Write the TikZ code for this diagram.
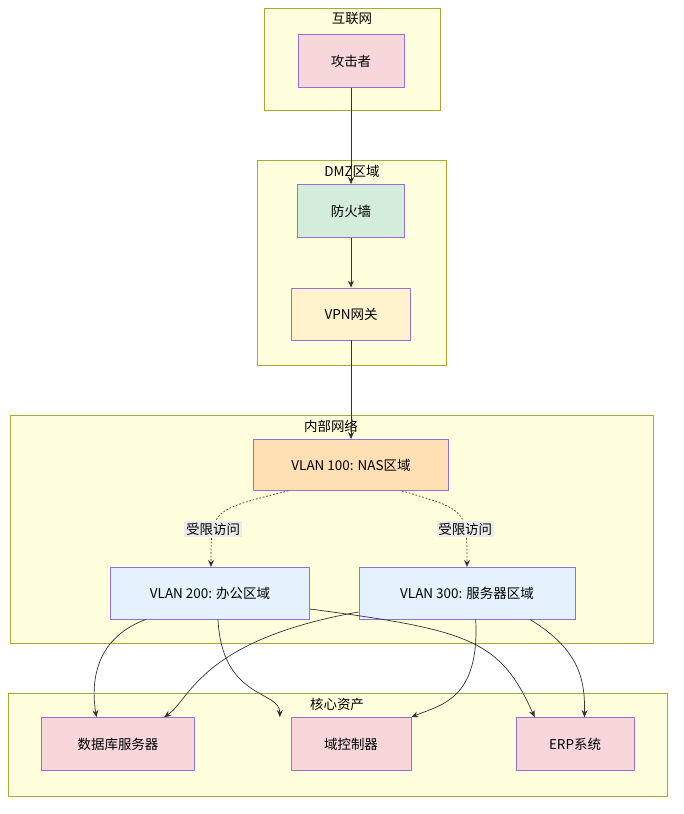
\documentclass[tikz,border=0pt]{standalone}
\usepackage{fontspec}
\setmainfont{Noto Sans CJK SC}
\usetikzlibrary{arrows.meta, positioning, calc}
\definecolor{clfill}{HTML}{FFFFDE}
\definecolor{cldraw}{HTML}{AAAA33}
\definecolor{ndraw}{HTML}{9370DB}
\definecolor{redf}{HTML}{F8D7DA}
\definecolor{greenf}{HTML}{D4EDDA}
\definecolor{yelf}{HTML}{FFF3CD}
\definecolor{orgf}{HTML}{FFDFB3}
\definecolor{bluef}{HTML}{E3F2FD}
\definecolor{lnk}{HTML}{333333}
\tikzset{
    cluster/.style={draw=cldraw, fill=clfill, line width=0.6pt},
    box/.style={rectangle, draw=ndraw, line width=0.6pt, align=center, font=\fontsize{11.5}{13}\selectfont},
    cltitle/.style={font=\fontsize{11.5}{13}\selectfont, anchor=center},
    link/.style={draw=lnk, line width=0.6pt, -{Stealth[length=6pt,width=5pt]}},
    dlink/.style={link, dash pattern=on 1.5pt off 1.5pt},
    lbl/.style={fill=black!8, inner sep=1.5pt, font=\fontsize{11.5}{13}\selectfont}
}
\begin{document}
\begin{tikzpicture}[x=0.03cm, y=-0.03cm]
        \useasboundingbox (0,0) rectangle (684,814);

        % Clusters
        \draw[cluster] (264,8) rectangle (440,110);
        \node[cltitle] (c1) at (352,19) {互联网};
        \draw[cluster] (257,160) rectangle (446,365);
        \node[cltitle] (c2) at (352,171) {DMZ区域};
        \draw[cluster] (10,415) rectangle (653,643);
        \node[cltitle] (c3) at (331,426) {内部网络};
        \draw[cluster] (8,693) rectangle (667,796);
        \node[cltitle] (c4) at (337,704) {核心资产};

        % Nodes
        \node[box, fill=redf, minimum width=106*0.03cm, minimum height=53*0.03cm] (attacker) at (351,61) {攻击者};
        \node[box, fill=greenf, minimum width=107*0.03cm, minimum height=53*0.03cm] (fw) at (351,211) {防火墙};
        \node[box, fill=yelf, minimum width=119*0.03cm, minimum height=52*0.03cm] (vpn) at (351,314) {VPN网关};
        \node[box, fill=orgf, minimum width=195*0.03cm, minimum height=51*0.03cm] (v100) at (351,465) {VLAN 100: NAS区域};
        \node[box, fill=bluef, minimum width=199*0.03cm, minimum height=52*0.03cm] (v200) at (210,593) {VLAN 200: 办公区域};
        \node[box, fill=bluef, minimum width=216*0.03cm, minimum height=52*0.03cm] (v300) at (467,593) {VLAN 300: 服务器区域};
        \node[box, fill=redf, minimum width=153*0.03cm, minimum height=53*0.03cm] (db) at (118,744) {数据库服务器};
        \node[box, fill=redf, minimum width=120*0.03cm, minimum height=53*0.03cm] (dc) at (351,744) {域控制器};
        \node[box, fill=redf, minimum width=118*0.03cm, minimum height=53*0.03cm] (erp) at (575,744) {ERP系统};

        % Links
        \draw[link] (attacker) -- (fw);
        \draw[link] (fw) -- (vpn);
        \draw[link] (vpn) -- (v100);
        \draw[dlink] ($(v100.south west)!0.18!(v100.south east)$) .. controls (211,510) .. (211,567) node[lbl, pos=0.7] {受限访问};
        \draw[dlink] ($(v100.south west)!0.76!(v100.south east)$) .. controls (467,510) .. (467,567) node[lbl, pos=0.7] {受限访问};
        \draw[link] ($(v200.south west)!0.18!(v200.south east)$) .. controls (90,640) and (92,690) .. ($(db.north west)!0.36!(db.north east)$);
        \draw[link] ($(v200.south west)!0.54!(v200.south east)$) .. controls (222,700) and (280,690) .. ($(dc.north west)!-0.09!(dc.north east)$);
        \draw[link] (v200.east |- 0,609) .. controls (470,630) and (500,640) .. ($(erp.north west)!0.16!(erp.north east)$);
        \draw[link] (v300.west |- 0,612) .. controls (200,640) and (190,700) .. ($(db.north west)!0.8!(db.north east)$);
        \draw[link] ($(v300.south west)!0.54!(v300.south east)$) .. controls (480,700) and (440,705) .. (dc.north east);
        \draw[link] ($(v300.south west)!0.79!(v300.south east)$) .. controls (580,650) and (585,680) .. ($(erp.north west)!0.58!(erp.north east)$);
\end{tikzpicture}
\end{document}
